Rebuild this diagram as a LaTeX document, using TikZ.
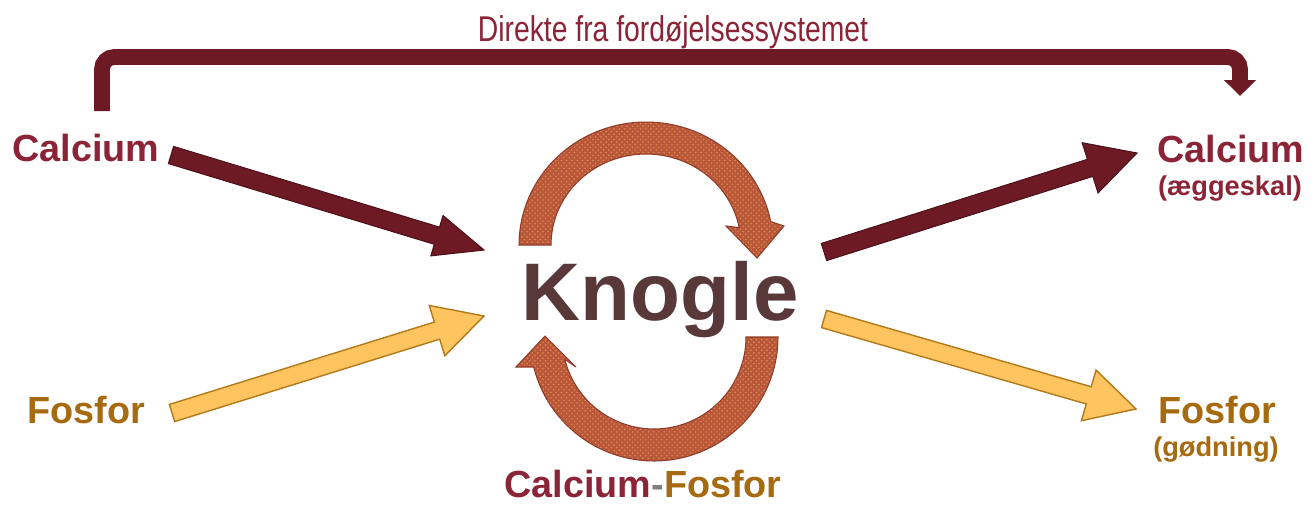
\documentclass[tikz,border=0pt]{standalone}
\usepackage{fontspec}
\setmainfont{Liberation Sans}
\newfontfamily\narrowfont[FakeStretch=0.79]{Liberation Sans}
\usetikzlibrary{calc,arrows.meta,patterns}
\definecolor{barred}{HTML}{6E1A25}
\definecolor{calred}{HTML}{8C2438}
\definecolor{fosbrown}{HTML}{A66A10}
\definecolor{yelfill}{HTML}{FDC460}
\definecolor{yeledge}{HTML}{B27A1A}
\definecolor{knogcol}{HTML}{583838}
\definecolor{cycfill}{HTML}{B9573A}
\definecolor{cyclight}{HTML}{E08E4E}
\definecolor{cycedge}{HTML}{8E3B2A}
% #1 style, #2 tail, #3 tip, #4 half head width
\newcommand{\fatarrow}[4]{%
  \coordinate (fa-h) at ($(#3)!28pt!(#2)$);
  \filldraw[#1] ($(#2)!5.1pt!90:(#3)$) -- ($(fa-h)!5.1pt!-90:(#2)$) -- ($(fa-h)!#4!-90:(#2)$) -- (#3) -- ($(fa-h)!#4!90:(#2)$) -- ($(fa-h)!5.1pt!90:(#2)$) -- ($(#2)!5.1pt!-90:(#3)$) -- cycle;}
\tikzset{
  redarrow/.style={fill=barred, draw=barred!70!black, line width=0.6pt, line join=miter},
  yelarrow/.style={fill=yelfill, draw=yeledge, line width=0.8pt, line join=miter},
  biglabel/.style={inner sep=0pt, font=\bfseries\fontsize{21.5pt}{24pt}\selectfont},
  sublabel/.style={inner sep=0pt, font=\bfseries\fontsize{15.5pt}{18pt}\selectfont},
  cycarrow/.style={preaction={fill=cycfill}, pattern=crosshatch dots, pattern color=cyclight, draw=cycedge, line width=0.6pt},
}
\begin{document}
\begin{tikzpicture}[x=0.02cm, y=-0.02cm]
\useasboundingbox (0,0) rectangle (1314,511);
% labels
\node[biglabel, text=calred, anchor=base west] (calL) at (12,161) {Calcium};
\node[biglabel, text=fosbrown, anchor=base west] (fosL) at (27,423) {Fosfor};
\node[biglabel, text=calred, anchor=base west] (calR) at (1157,162) {Calcium};
\node[sublabel, text=calred, anchor=base] (calRsub) at (1230,195) {(æggeskal)};
\node[biglabel, text=fosbrown, anchor=base west] (fosR) at (1158,423) {Fosfor};
\node[sublabel, text=fosbrown, anchor=base] (fosRsub) at (1216,456) {(gødning)};
\node[inner sep=0pt, anchor=base, text=knogcol, font=\bfseries\fontsize{46.5pt}{50pt}\selectfont] (knogle) at (660,320) {Knogle};
\node[biglabel, anchor=base] (cf) at (643,497) {\textcolor{calred}{Calcium}\textcolor{gray}{-}\textcolor{fosbrown}{Fosfor}};
\node[inner sep=0pt, anchor=base, text=calred, font=\narrowfont\fontsize{20.4pt}{24pt}\selectfont] (direkte) at (673,41) {Direkte fra fordøjelsessystemet};
% top bracket arrow
\coordinate (ds) at (102,111);
\coordinate (de) at (1240,96);
\draw[barred, line width=9pt, rounded corners=7pt, -{Triangle[width=17.5pt,length=9pt]}] (ds) -- (ds |- 0,57) -- (de |- 0,57) -- (de);
% straight arrows
\coordinate (a1s) at (171,155); \coordinate (a1e) at (484,250);
\coordinate (a2s) at (172,413); \coordinate (a2e) at (484,316);
\coordinate (a3s) at (824,252); \coordinate (a3e) at (1137,153);
\coordinate (a4s) at (824,319); \coordinate (a4e) at (1136,409);
\fatarrow{redarrow}{a1s}{a1e}{12pt}
\fatarrow{yelarrow}{a2s}{a2e}{15pt}
\fatarrow{redarrow}{a3s}{a3e}{15pt}
\fatarrow{yelarrow}{a4s}{a4e}{15pt}
% cycle arrows
\path[cycarrow] plot[domain=180:349, samples=60] ({646+127*cos(\x)},{245+123*sin(\x)}) -- (784,226) -- (757,258) -- (726,226) -- plot[domain=349:180, samples=60] ({646+95*cos(\x)},{245+91*sin(\x)}) -- cycle;
\path[cycarrow] plot[domain=0:166, samples=60] ({654+124*cos(\x)},{337+124*sin(\x)}) -- (516,367) -- (545,336) -- (576,367) -- plot[domain=166:0, samples=60] ({654+92*cos(\x)},{337+92*sin(\x)}) -- cycle;
\end{tikzpicture}
\end{document}
